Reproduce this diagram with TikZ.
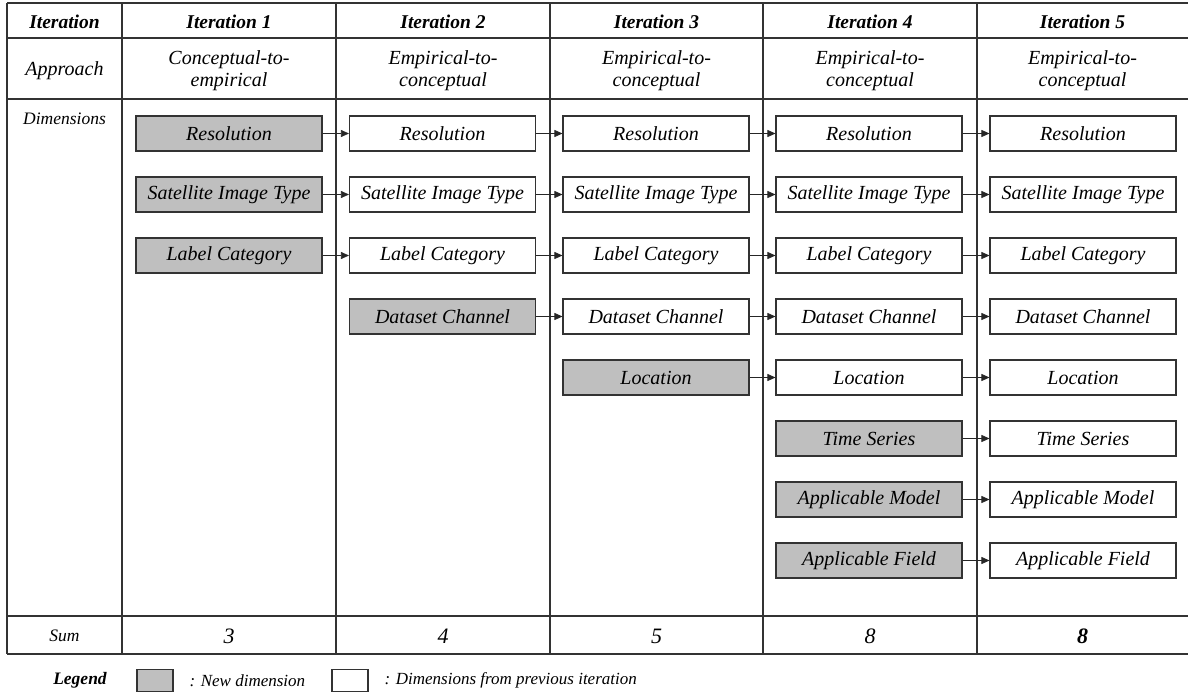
\documentclass[tikz,border=0pt]{standalone}
\usepackage{fontspec}
\setmainfont{Liberation Serif}
\usetikzlibrary{arrows.meta}
\begin{document}
\begin{tikzpicture}[x=1pt,y=-1pt,
  gridline/.style={draw=black!80, line width=1.1pt},
  dimbox/.style={draw=black!80, line width=1.1pt, minimum width=186pt, minimum height=35pt,
    inner sep=0pt, fill=white, font=\fontsize{20}{22}\selectfont\itshape},
  newbox/.style={dimbox, fill=gray!50},
  legbox/.style={draw=black!80, line width=1.1pt, minimum width=36pt, minimum height=22pt, inner sep=0pt},
  conn/.style={-{Triangle[length=8pt,width=7pt]}, line width=0.7pt, draw=black!85},
  headtxt/.style={font=\fontsize{19.5}{22}\selectfont\bfseries\itshape},
  apptxt/.style={align=center, font=\fontsize{20}{22}\selectfont\itshape},
  smalltxt/.style={font=\fontsize{17.5}{20}\selectfont\itshape},
  sumtxt/.style={font=\fontsize{22}{24}\selectfont\itshape},
  legtxt/.style={font=\fontsize{17}{19}\selectfont\itshape, anchor=west}
]
\useasboundingbox (0,0) rectangle (1188,693);
% grid
\foreach \yy in {3,38,99,616,654} \draw[gridline] (7,\yy) -- (1188,\yy);
\foreach \xx in {7,122,336,550,763,977} \draw[gridline] (\xx,3) -- (\xx,654);
% header
\node[headtxt] (h0) at (64.5,22) {Iteration};
\node[headtxt] (h1) at (229,22) {Iteration 1};
\node[headtxt] (h2) at (443,22) {Iteration 2};
\node[headtxt] (h3) at (656.5,22) {Iteration 3};
\node[headtxt] (h4) at (870,22) {Iteration 4};
\node[headtxt] (h5) at (1082.5,22) {Iteration 5};
% approach
\node[apptxt] (a0) at (64.5,71) {Approach};
\node[apptxt] (a1) at (229,71) {Conceptual-to-\\empirical};
\node[apptxt] (a2) at (443,71) {Empirical-to-\\conceptual};
\node[apptxt] (a3) at (656.5,71) {Empirical-to-\\conceptual};
\node[apptxt] (a4) at (870,71) {Empirical-to-\\conceptual};
\node[apptxt] (a5) at (1082.5,71) {Empirical-to-\\conceptual};
\node[smalltxt] (d0) at (64.5,119) {Dimensions};
% boxes column 1
\node[newbox] (c1r1) at (229,133.5) {Resolution};
\node[newbox] (c1r2) at (229,194.5) {Satellite Image Type};
\node[newbox] (c1r3) at (229,255.5) {Label Category};
% column 2
\node[dimbox] (c2r1) at (442.5,133.5) {Resolution};
\node[dimbox] (c2r2) at (442.5,194.5) {Satellite Image Type};
\node[dimbox] (c2r3) at (442.5,255.5) {Label Category};
\node[newbox] (c2r4) at (442.5,316.5) {Dataset Channel};
% column 3
\node[dimbox] (c3r1) at (656,133.5) {Resolution};
\node[dimbox] (c3r2) at (656,194.5) {Satellite Image Type};
\node[dimbox] (c3r3) at (656,255.5) {Label Category};
\node[dimbox] (c3r4) at (656,316.5) {Dataset Channel};
\node[newbox] (c3r5) at (656,377.5) {Location};
% column 4
\node[dimbox] (c4r1) at (869,133.5) {Resolution};
\node[dimbox] (c4r2) at (869,194.5) {Satellite Image Type};
\node[dimbox] (c4r3) at (869,255.5) {Label Category};
\node[dimbox] (c4r4) at (869,316.5) {Dataset Channel};
\node[dimbox] (c4r5) at (869,377.5) {Location};
\node[newbox] (c4r6) at (869,438.5) {Time Series};
\node[newbox] (c4r7) at (869,499.5) {Applicable Model};
\node[newbox] (c4r8) at (869,560.5) {Applicable Field};
% column 5
\node[dimbox] (c5r1) at (1083,133.5) {Resolution};
\node[dimbox] (c5r2) at (1083,194.5) {Satellite Image Type};
\node[dimbox] (c5r3) at (1083,255.5) {Label Category};
\node[dimbox] (c5r4) at (1083,316.5) {Dataset Channel};
\node[dimbox] (c5r5) at (1083,377.5) {Location};
\node[dimbox] (c5r6) at (1083,438.5) {Time Series};
\node[dimbox] (c5r7) at (1083,499.5) {Applicable Model};
\node[dimbox] (c5r8) at (1083,560.5) {Applicable Field};
% connectors
\foreach \r in {1,2,3} \draw[conn] (c1r\r.east) -- (c2r\r.west);
\foreach \r in {1,2,3,4} \draw[conn] (c2r\r.east) -- (c3r\r.west);
\foreach \r in {1,2,3,4,5} \draw[conn] (c3r\r.east) -- (c4r\r.west);
\foreach \r in {1,...,8} \draw[conn] (c4r\r.east) -- (c5r\r.west);
% sum row
\node[smalltxt] (s0) at (64.5,636) {Sum};
\node[sumtxt] (s1) at (229,636) {3};
\node[sumtxt] (s2) at (443,636) {4};
\node[sumtxt] (s3) at (656.5,636) {5};
\node[sumtxt] (s4) at (870,636) {8};
\node[sumtxt,font=\fontsize{22}{24}\selectfont\bfseries\itshape] (s5) at (1082.5,636) {8};
% legend
\node[font=\fontsize{17.5}{20}\selectfont\bfseries\itshape] (leg) at (80,680.5) {Legend};
\node[legbox, fill=gray!50] (lg1) at (155,680.5) {};
\node[legtxt] (lt1) at (186,680.5) {: New dimension};
\node[legbox, fill=white] (lg2) at (350,680.5) {};
\node[legtxt] (lt2) at (381,680.5) {: Dimensions from previous iteration};
\end{tikzpicture}
\end{document}
